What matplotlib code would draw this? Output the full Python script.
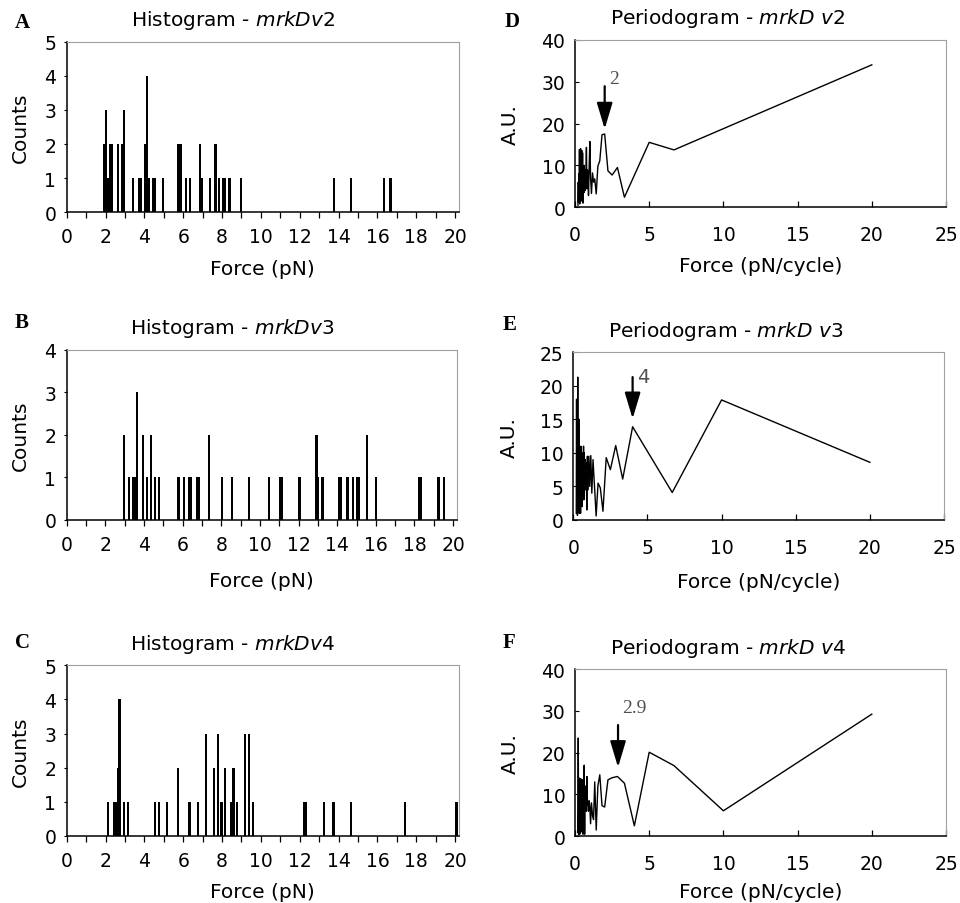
import matplotlib
matplotlib.use("Agg")
import matplotlib.pyplot as plt

plt.rcParams['font.family'] = 'DejaVu Sans'
plt.rcParams['mathtext.fontset'] = 'dejavusans'

# histograms: force values (pN) and counts
force_v2 = [1.93, 2.03, 2.12, 2.22, 2.31, 2.62, 2.83, 2.93, 3.43, 3.72, 3.83, 4.03,
            4.14, 4.24, 4.45, 4.55, 4.97, 5.76, 5.86, 6.14, 6.36, 6.86, 6.97, 7.38,
            7.66, 7.86, 8.07, 8.17, 8.38, 8.98, 13.77, 14.65, 16.36, 16.67]
counts_v2 = [2, 3, 1, 2, 2, 2, 2, 3, 1, 1, 1, 2,
             4, 1, 1, 1, 1, 2, 2, 1, 1, 2, 1, 1,
             2, 1, 1, 1, 1, 1, 1, 1, 1, 1]

force_v3 = [2.95, 3.22, 3.43, 3.52, 3.59, 3.65, 3.95, 4.15, 4.36, 4.55, 4.76, 5.74,
            5.82, 6.05, 6.32, 6.44, 6.73, 6.82, 7.35, 8.04, 8.54, 9.44, 10.45, 11.05,
            11.14, 12.05, 12.93, 13.02, 13.24, 14.12, 14.21, 14.53, 14.83, 15.03, 15.12,
            15.53, 16.03, 18.22, 18.33, 19.24, 19.53]
counts_v3 = [2, 1, 1, 1, 1, 3, 2, 1, 2, 1, 1, 1,
             1, 1, 1, 1, 1, 1, 2, 1, 1, 1, 1, 1,
             1, 1, 2, 1, 1, 1, 1, 1, 1, 1, 1,
             2, 1, 1, 1, 1, 1]

force_v4 = [2.14, 2.43, 2.52, 2.62, 2.72, 2.95, 3.16, 4.55, 4.76, 5.17, 5.74, 6.28,
            6.36, 6.76, 7.17, 7.57, 7.78, 7.97, 8.17, 8.48, 8.53, 8.59, 8.79, 9.17,
            9.38, 9.59, 12.24, 12.34, 13.24, 13.74, 14.63, 17.44, 20.07]
counts_v4 = [1, 1, 1, 2, 4, 1, 1, 1, 1, 1, 2, 1,
             1, 1, 3, 2, 3, 1, 2, 1, 1, 2, 1, 3,
             3, 1, 1, 1, 1, 1, 1, 1, 1]

# periodograms: force per cycle and power (A.U.)
period_v2 = [20.0, 6.67, 5.0, 3.33, 2.86, 2.5, 2.22, 2.0, 1.82, 1.67, 1.54, 1.43,
             1.33, 1.25, 1.18, 1.11, 1.05, 1.0, 0.95, 0.91, 0.87, 0.83, 0.8, 0.77,
             0.74, 0.71, 0.69, 0.67, 0.65, 0.62, 0.6, 0.57, 0.54, 0.51, 0.49, 0.47,
             0.44, 0.42, 0.4, 0.38, 0.36, 0.34, 0.32, 0.3, 0.28, 0.26, 0.24, 0.22, 0.2]
power_v2 = [34.0, 13.7, 15.5, 2.4, 9.5, 7.7, 8.7, 17.5, 17.3, 11.1, 9.8, 3.2,
            6.8, 6.0, 8.2, 3.3, 7.0, 15.7, 9.0, 2.8, 8.5, 9.0, 4.4, 14.3,
            8.3, 6.0, 9.0, 4.0, 8.0, 10.0, 3.5, 9.5, 1.0, 13.0, 3.0, 13.5,
            1.5, 12.5, 4.0, 14.0, 2.0, 11.0, 0.8, 13.8, 3.0, 8.0, 1.2, 6.0, 0.5]

period_v3 = [20.0, 10.0, 6.67, 4.0, 3.33, 2.86, 2.5, 2.22, 2.0, 1.82, 1.67, 1.54,
             1.43, 1.33, 1.25, 1.18, 1.11, 1.05, 1.0, 0.95, 0.91, 0.87, 0.83, 0.8,
             0.77, 0.74, 0.71, 0.69, 0.67, 0.65, 0.62, 0.6, 0.57, 0.54, 0.51, 0.49,
             0.47, 0.44, 0.42, 0.4, 0.38, 0.36, 0.34, 0.32, 0.3, 0.28, 0.26, 0.24, 0.22, 0.2]
power_v3 = [8.6, 17.9, 4.1, 13.9, 6.1, 11.1, 7.5, 9.3, 1.3, 4.8, 5.5, 0.6,
            5.0, 9.0, 4.0, 9.6, 5.0, 9.5, 4.5, 9.5, 1.5, 8.5, 4.5, 9.0,
            5.0, 10.0, 3.0, 11.0, 4.0, 10.0, 6.0, 2.0, 9.0, 4.0, 11.0, 1.0,
            10.0, 3.0, 8.0, 1.0, 15.0, 2.0, 9.0, 1.5, 21.3, 0.7, 12.0, 1.0, 18.0, 1.0]

period_v4 = [20.0, 10.0, 6.67, 5.0, 4.0, 3.33, 2.86, 2.5, 2.22, 2.0, 1.82, 1.67,
             1.54, 1.43, 1.33, 1.25, 1.18, 1.11, 1.05, 1.0, 0.95, 0.91, 0.87, 0.83,
             0.8, 0.77, 0.74, 0.71, 0.69, 0.67, 0.65, 0.62, 0.6, 0.57, 0.54, 0.51,
             0.49, 0.47, 0.44, 0.42, 0.4, 0.38, 0.36, 0.34, 0.32, 0.3, 0.28, 0.26,
             0.24, 0.22, 0.2, 0.18]
power_v4 = [29.2, 6.1, 16.9, 20.1, 2.5, 12.7, 14.3, 14.0, 13.5, 7.0, 7.3, 14.7,
            12.0, 1.5, 13.0, 4.0, 5.0, 8.0, 3.0, 7.0, 8.5, 6.0, 7.5, 9.0,
            14.3, 6.0, 8.5, 12.0, 7.0, 9.0, 0.5, 17.0, 4.0, 9.0, 0.5, 13.5,
            2.0, 13.0, 4.0, 13.5, 1.0, 13.8, 1.5, 6.0, 0.5, 10.0, 2.0, 14.0,
            0.5, 23.5, 5.0, 1.0]

# marked peaks (pN/cycle)
peak_v2 = 2.0
peak_v3 = 4.0
peak_v4 = 2.9

W, H = 960, 904
fig = plt.figure(figsize=(W / 100, H / 100), dpi=100)


def rect(left, top, right, bottom):
    return [left / W, 1 - bottom / H, (right - left) / W, (bottom - top) / H]


def frame(ax):
    for s in ('top', 'right'):
        ax.spines[s].set_color('#a0a0a0')
        ax.spines[s].set_linewidth(0.8)
    for s in ('left', 'bottom'):
        ax.spines[s].set_color('black')
        ax.spines[s].set_linewidth(1.1)


def hist_panel(box, x, y, ymax, name, xlab_y):
    ax = fig.add_axes(rect(*box))
    ax.bar(x, y, width=0.11, color='black', linewidth=0)
    ax.set_xlim(0, 20.2)
    ax.set_ylim(0, ymax)
    ax.set_xticks(range(0, 21, 2))
    ax.set_xticks(range(0, 21), minor=True)
    ax.set_yticks(range(0, ymax + 1))
    ax.tick_params(axis='x', which='both', direction='out', length=4.5, width=0.9,
                   pad=6, labelsize=13.5, top=False)
    ax.tick_params(axis='y', direction='out', length=2.5, width=0.8, pad=5,
                   labelsize=13.5, right=False)
    frame(ax)
    ax.set_xlabel('Force (pN)', fontsize=14.5)
    ax.set_ylabel('Counts', fontsize=14.5)
    ax.xaxis.set_label_coords(0.5, xlab_y)
    ax.yaxis.set_label_coords(-0.094, 0.5)
    ax.text(0.424, 1.13, 'Histogram - $\\mathit{' + name + '}$', transform=ax.transAxes,
            ha='center', va='center', fontsize=14.5)
    return ax


def perio_panel(box, x, y, ymax, ystep, name, xlab_y):
    ax = fig.add_axes(rect(*box))
    ax.plot(x, y, color='black', linewidth=1.0)
    ax.set_xlim(0, 25)
    ax.set_ylim(0, ymax)
    ax.set_xticks(range(0, 26, 5))
    ax.set_yticks(range(0, ymax + 1, ystep))
    ax.tick_params(axis='x', direction='in', length=4.5, width=0.9, pad=13,
                   labelsize=13.5, top=False)
    ax.tick_params(axis='y', direction='in', length=3, width=0.8, pad=7,
                   labelsize=13.5, right=False)
    frame(ax)
    ax.set_xlabel('Force (pN/cycle)', fontsize=14.5)
    ax.set_ylabel('A.U.', fontsize=14.5)
    ax.xaxis.set_label_coords(0.5, xlab_y)
    ax.yaxis.set_label_coords(-0.148, 0.5)
    ax.text(0.412, 1.13, 'Periodogram - $\\mathit{' + name + '}$', transform=ax.transAxes,
            ha='center', va='center', fontsize=14.5)
    return ax


def mark_peak(ax, peak, y_tip, y_tail, tx, ty, family):
    ax.annotate('', xy=(peak, y_tip), xytext=(peak, y_tail),
                arrowprops=dict(arrowstyle='-|>,head_length=0.8,head_width=0.24',
                                mutation_scale=20, color='black', lw=1.6,
                                shrinkA=0, shrinkB=0))
    ax.text(tx, ty, f'{peak:g}', ha='center', va='center', fontsize=14,
            color='#505050', family=family)


hist_panel((66.7, 42.7, 459, 213.3), force_v2, counts_v2, 5, 'mrkDv2', -0.274)
hist_panel((66.7, 350.7, 457, 521), force_v3, counts_v3, 4, 'mrkDv3', -0.30)
hist_panel((66.7, 666.3, 459, 837), force_v4, counts_v4, 5, 'mrkDv4', -0.27)

ax_d = perio_panel((575, 40.7, 946, 208.3), period_v2, power_v2, 40, 10, 'mrkD\\ v2', -0.29)
mark_peak(ax_d, peak_v2, 18.7, 28.9, 2.6, 30.8, 'Liberation Serif')

ax_e = perio_panel((573.3, 353.3, 944, 521), period_v3, power_v3, 25, 5, 'mrkD\\ v3', -0.31)
mark_peak(ax_e, peak_v3, 15.1, 21.3, 4.72, 21.4, 'DejaVu Sans')

ax_f = perio_panel((575, 670, 946, 837.3), period_v4, power_v4, 40, 10, 'mrkD\\ v4', -0.275)
mark_peak(ax_f, peak_v4, 16.5, 26.6, 3.98, 30.7, 'Liberation Serif')

# panel letters
letters = ['A', 'B', 'C', 'D', 'E', 'F']
letter_xy = [(22, 23), (22, 323), (23, 643), (512, 22), (510, 325), (509, 643)]
for lab, (px, py) in zip(letters, letter_xy):
    fig.text(px / W, 1 - py / H, lab, ha='center', va='center', fontsize=15,
             fontweight='bold', family='Liberation Serif')

fig.savefig('out.png', dpi=100)
